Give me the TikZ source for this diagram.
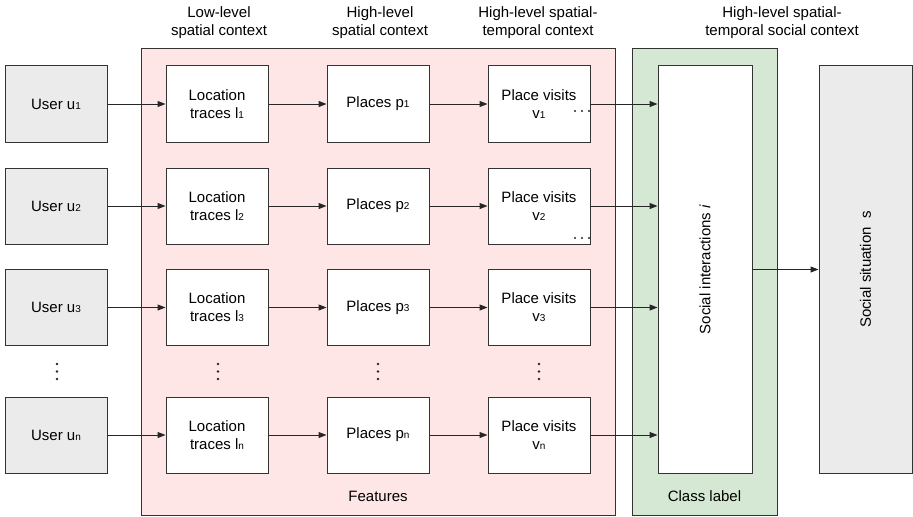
\documentclass[tikz,border=0pt]{standalone}
\usepackage{fontspec}
\setmainfont{Liberation Sans}
\usetikzlibrary{arrows.meta}
\definecolor{pinkfill}{HTML}{FFE6E6}
\definecolor{greenfill}{HTML}{D5E8D4}
\definecolor{grayfill}{HTML}{EBEBEB}
\definecolor{edge}{HTML}{333333}
\newcommand\sbs[1]{{\fontsize{7.5}{8}\selectfont #1}}
\tikzset{
  base/.style={draw=edge, line width=0.75pt, font=\fontsize{11.25}{13.5}\selectfont, align=center, inner sep=0pt},
  stepbox/.style={base, fill=white, minimum width=76.5pt, minimum height=57pt},
  userbox/.style={stepbox, fill=grayfill},
  tallbox/.style={base, minimum height=305.25pt, minimum width=70.5pt},
  groupbox/.style={base, minimum height=349.5pt},
  lbl/.style={font=\fontsize{11.25}{13.5}\selectfont, align=center, inner sep=0pt},
  arr/.style={draw=black!85, line width=0.75pt, -{Triangle[length=6pt,width=4.5pt]}},
  dot/.style={fill=black!85}
}
\begin{document}
\begin{tikzpicture}[x=0.75pt,y=-0.75pt]
\useasboundingbox (0,0) rectangle (913,517);
% group boxes
\node[groupbox, fill=pinkfill, minimum width=355.5pt] (feat) at (378,282) {};
\node[groupbox, fill=greenfill, minimum width=108.75pt] (cls) at (704.5,282) {};
\node[lbl] (featlbl) at (378,496) {Features};
\node[lbl] (clslbl) at (704.5,496) {Class label};
% titles
\node[lbl] (t1) at (219,22.5) {Low-level\\spatial context};
\node[lbl] (t2) at (380,22.5) {High-level\\spatial context};
\node[lbl] (t3) at (538,22.5) {High-level spatial-\\temporal context};
\node[lbl] (t4) at (782,22.5) {High-level spatial-\\temporal social context};
% tall boxes
\node[tallbox, fill=white] (inter) at (705,269.5) {};
\node[lbl, rotate=90] (interlbl) at (705,269.5) {Social interactions \textit{i}};
\node[tallbox, fill=grayfill, minimum width=69.75pt] (sit) at (865.5,269.5) {};
\node[lbl, rotate=90] (sitlbl) at (865.5,269.5) {Social situation\ \ s};
% rows
\foreach \r/\y in {1/104, 2/206, 3/307.5, n/435} {
  \node[userbox] (u\r) at (56,\y) {User u\sbs{\r}};
  \node[stepbox] (l\r) at (217,\y) {Location\\traces l\sbs{\r}};
  \node[stepbox] (p\r) at (378,\y) {Places p\sbs{\r}};
  \node[stepbox] (v\r) at (539,\y) {Place visits\\v\sbs{\r}};
  \draw[arr] (u\r) -- (l\r);
  \draw[arr] (l\r) -- (p\r);
  \draw[arr] (p\r) -- (v\r);
  \draw[arr] (v\r.east) -- (v\r.east -| inter.west);
}
\draw[arr] (inter.east |- sit.west) -- (sit.west);
% horizontal ellipses in place-visit boxes
\foreach \x in {575,582,589} {
  \fill[dot] (\x,111) circle (1.2);
  \fill[dot] (\x,238) circle (1.2);
}
% vertical ellipses
\foreach \x in {57,218,378,539} {
  \foreach \yy in {364,371.5,379} {
    \fill[dot] (\x,\yy) circle (1.3);
  }
}
\end{tikzpicture}
\end{document}
